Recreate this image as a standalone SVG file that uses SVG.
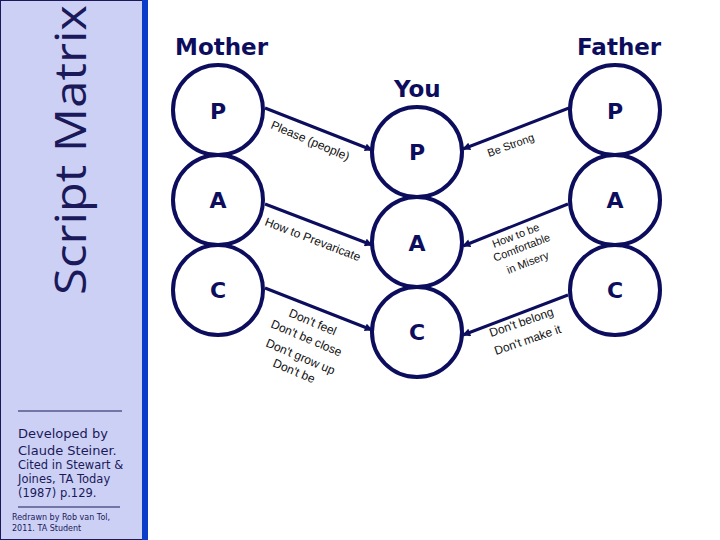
<svg xmlns="http://www.w3.org/2000/svg" width="720" height="540" viewBox="0 0 720 540">
<style>
.ring{fill:none;stroke:#0d0d5e;stroke-width:4}
.letter{font-family:"DejaVu Sans",sans-serif;font-weight:bold;font-size:22px;fill:#0d0d5e;text-anchor:middle}
.title{font-family:"DejaVu Sans",sans-serif;font-weight:bold;font-size:23px;fill:#0d0d5e}
.conn{stroke:#0d0d5e;stroke-width:3;fill:none}
.lbl{font-family:"Liberation Sans",Arial,sans-serif;font-size:12px;fill:#111}
.lbl2{font-family:"Liberation Sans",Arial,sans-serif;font-size:11px;fill:#111}
.side{font-family:"DejaVu Sans",sans-serif;fill:#1a1a5a}
</style>
<defs>
<marker id="arr" viewBox="0 0 10 10" refX="9" refY="5" markerWidth="9" markerHeight="8" markerUnits="userSpaceOnUse" orient="auto">
<path d="M0,0 L10,5 L0,10 z" fill="#0d0d5e"/>
</marker>
</defs>
<rect width="720" height="540" fill="#ffffff"/>
<g id="sidebar">
<rect x="0.5" y="0.5" width="142" height="539" fill="#cdd0f5" stroke="#1a1a5a" stroke-width="1"/>
<rect x="142" y="0" width="6" height="540" fill="#0b3bc9"/>
<text class="side" transform="translate(86,295) rotate(-90)" font-family="'Open Sans',sans-serif" font-size="44" textLength="290" lengthAdjust="spacingAndGlyphs" style="font-family:'Open Sans',sans-serif">Script Matrix</text>
<line x1="18" y1="411" x2="122" y2="411" stroke="#1a1a5a" stroke-width="1.2"/>
<text class="side" x="18" y="438" font-size="13">Developed by</text>
<text class="side" x="18" y="455" font-size="13">Claude Steiner.</text>
<text class="side" x="18" y="469" font-size="11.5">Cited in Stewart &amp;</text>
<text class="side" x="18" y="483" font-size="11.5">Joines, TA Today</text>
<text class="side" x="18" y="497" font-size="11.5">(1987) p.129.</text>
<line x1="18" y1="507" x2="120" y2="507" stroke="#1a1a5a" stroke-width="1.2"/>
<text class="side" x="12" y="520" font-size="8" fill="#111">Redrawn by Rob van Tol,</text>
<text class="side" x="12" y="531" font-size="8" fill="#111">2011. TA Student</text>
</g>
<g id="titles">
<text class="title" x="175" y="55">Mother</text>
<text class="title" x="577" y="55">Father</text>
<text class="title" x="394" y="97">You</text>
</g>
<g id="connectors">
<line class="conn" x1="265" y1="108" x2="372" y2="150" marker-end="url(#arr)"/>
<line class="conn" x1="265" y1="204" x2="372" y2="245" marker-end="url(#arr)"/>
<line class="conn" x1="265" y1="288" x2="372" y2="330" marker-end="url(#arr)"/>
<line class="conn" x1="569" y1="108" x2="463" y2="149" marker-end="url(#arr)"/>
<line class="conn" x1="568" y1="204" x2="463" y2="246" marker-end="url(#arr)"/>
<line class="conn" x1="568" y1="295" x2="463" y2="335" marker-end="url(#arr)"/>
<text class="lbl" transform="translate(270,128) rotate(23)">Please (people)</text>
<text class="lbl" transform="translate(264,225) rotate(21)">How to Prevaricate</text>
<text class="lbl" transform="translate(288,316) rotate(23)">Don't feel</text>
<text class="lbl" transform="translate(270,327) rotate(23)">Don't be close</text>
<text class="lbl" transform="translate(265,346) rotate(23)">Don't grow up</text>
<text class="lbl" transform="translate(272,366) rotate(23)">Don't be</text>
<text class="lbl2" transform="translate(489,157) rotate(-20)">Be Strong</text>
<text class="lbl2" text-anchor="middle" transform="translate(517,239) rotate(-21)">How to be</text>
<text class="lbl2" text-anchor="middle" transform="translate(523,251) rotate(-21)">Comfortable</text>
<text class="lbl2" text-anchor="middle" transform="translate(529,266) rotate(-21)">in Misery</text>
<text class="lbl" transform="translate(491,337) rotate(-19)">Don't belong</text>
<text class="lbl" transform="translate(496,355) rotate(-19)">Don't make it</text>
</g>
<g id="mother-P"><circle class="ring" cx="218" cy="110" r="45"/><text class="letter" x="218" y="119">P</text></g>
<g id="mother-A"><circle class="ring" cx="218" cy="200" r="45"/><text class="letter" x="218" y="208">A</text></g>
<g id="mother-C"><circle class="ring" cx="218" cy="290" r="45"/><text class="letter" x="218" y="298">C</text></g>
<g id="you-P"><circle class="ring" cx="417" cy="152" r="45"/><text class="letter" x="417" y="160">P</text></g>
<g id="you-A"><circle class="ring" cx="417" cy="242" r="45"/><text class="letter" x="417" y="251">A</text></g>
<g id="you-C"><circle class="ring" cx="417" cy="332" r="45"/><text class="letter" x="417" y="340">C</text></g>
<g id="father-P"><circle class="ring" cx="615" cy="110" r="45"/><text class="letter" x="615" y="119">P</text></g>
<g id="father-A"><circle class="ring" cx="615" cy="200" r="45"/><text class="letter" x="615" y="208">A</text></g>
<g id="father-C"><circle class="ring" cx="615" cy="290" r="45"/><text class="letter" x="615" y="298">C</text></g>
</svg>
